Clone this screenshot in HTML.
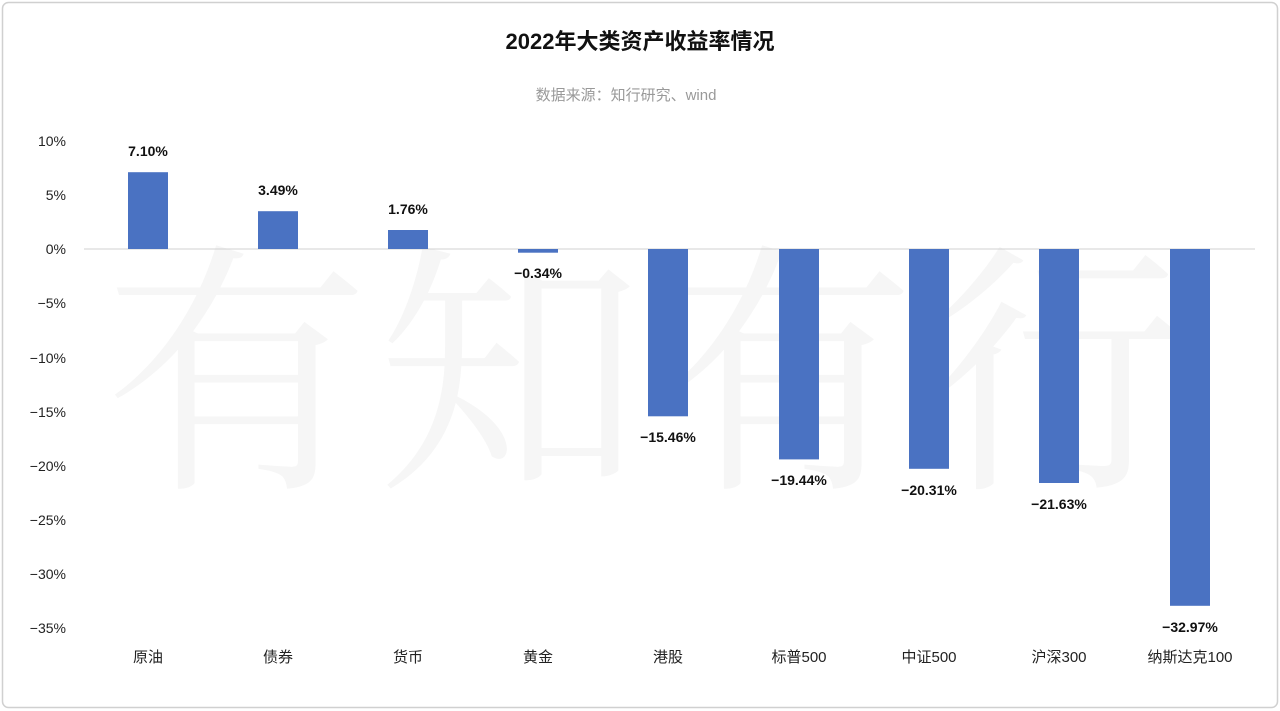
<!DOCTYPE html>
<html><head><meta charset="utf-8"><style>
html,body{margin:0;padding:0;background:#fff;}
svg{display:block;}
text{font-family:"Liberation Sans","Noto Sans CJK SC",sans-serif;}
</style></head><body>
<svg width="1280" height="711" viewBox="0 0 1280 711" xmlns="http://www.w3.org/2000/svg">
<rect x="2.5" y="2.5" width="1275" height="705" rx="6" fill="#fff" stroke="#d0d0d0" stroke-width="1.5"/>
<text x="650" y="400" text-anchor="middle" dominant-baseline="middle" font-size="265" fill="#f6f6f6" style="font-family:'Noto Serif CJK SC',serif;letter-spacing:8px">有知有行</text>
<text x="640" y="49" text-anchor="middle" font-size="22" font-weight="bold" fill="#111">2022年大类资产收益率情况</text>
<text x="626" y="100" text-anchor="middle" font-size="15" fill="#999">数据来源：知行研究、wind</text>
<g font-size="14" fill="#222" text-anchor="end">
<text x="66" y="146">10%</text><text x="66" y="200">5%</text><text x="66" y="254">0%</text>
<text x="66" y="308">−5%</text><text x="66" y="363">−10%</text><text x="66" y="417">−15%</text>
<text x="66" y="471">−20%</text><text x="66" y="525">−25%</text><text x="66" y="579">−30%</text><text x="66" y="633">−35%</text>
</g>
<line x1="84" y1="249" x2="1255" y2="249" stroke="#d0d0d0" stroke-width="1"/>
<g fill="#4a72c2">
<rect x="128" y="172.2" width="40" height="76.8"/>
<rect x="258" y="211.2" width="40" height="37.8"/>
<rect x="388" y="230" width="40" height="19"/>
<rect x="518" y="249" width="40" height="3.7"/>
<rect x="648" y="249" width="40" height="167.3"/>
<rect x="779" y="249" width="40" height="210.4"/>
<rect x="909" y="249" width="40" height="219.8"/>
<rect x="1039" y="249" width="40" height="234"/>
<rect x="1170" y="249" width="40" height="356.8"/>
</g>
<g font-size="14" font-weight="bold" fill="#111" text-anchor="middle">
<text x="148" y="156">7.10%</text>
<text x="278" y="195">3.49%</text>
<text x="408" y="214">1.76%</text>
<text x="538" y="278">−0.34%</text>
<text x="668" y="442">−15.46%</text>
<text x="799" y="485">−19.44%</text>
<text x="929" y="495">−20.31%</text>
<text x="1059" y="509">−21.63%</text>
<text x="1190" y="632">−32.97%</text>
</g>
<g font-size="15" fill="#222" text-anchor="middle">
<text x="148" y="662">原油</text><text x="278" y="662">债券</text><text x="408" y="662">货币</text>
<text x="538" y="662">黄金</text><text x="668" y="662">港股</text><text x="799" y="662">标普500</text>
<text x="929" y="662">中证500</text><text x="1059" y="662">沪深300</text><text x="1190" y="662">纳斯达克100</text>
</g>
</svg>
</body></html>
